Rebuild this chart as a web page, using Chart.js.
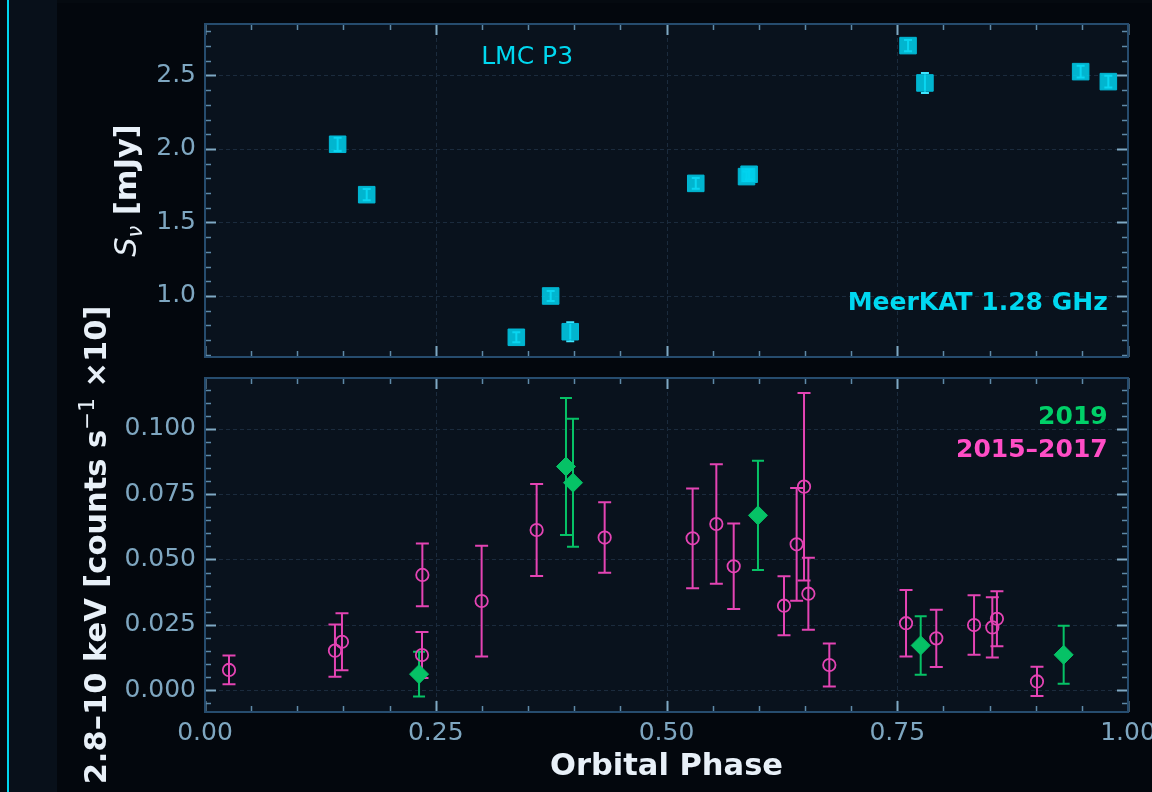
<!DOCTYPE html>
<html>
<head>
<meta charset="utf-8">
<script src="https://cdn.jsdelivr.net/npm/chart.js@4.4.1/dist/chart.umd.min.js"></script>
<style>
  body { margin: 0; background: #050a10; }
  #wrap { position: relative; width: 1152px; height: 792px; overflow: hidden; background: #050a10; }
  #edge { position: absolute; left: 7px; top: 0; width: 2px; height: 792px; background: #00d8f0; }
  #card { position: absolute; left: 9px; top: 0; width: 48px; height: 792px; background: #08101a; }
  #fig { position: absolute; left: 57px; top: 3px; right: 0; bottom: 0; background: #03070d; }
  canvas { position: absolute; left: 0; top: 0; }
</style>
</head>
<body>
<div id="wrap">
  <div id="edge"></div>
  <div id="card"></div>
  <div id="fig"></div>
  <canvas id="botChart" width="1152" height="792"></canvas>
  <canvas id="topChart" width="1152" height="792"></canvas>
</div>
<script>
// ---- data ----
// MeerKAT 1.28 GHz radio
const radioPhase = [0.1437, 0.1752, 0.3373, 0.3745, 0.3957, 0.5317, 0.5867, 0.5895, 0.7617, 0.7800, 0.9487, 0.9787];
const radioFlux  = [2.032, 1.689, 0.719, 1.000, 0.757, 1.766, 1.812, 1.828, 2.703, 2.449, 2.526, 2.458];
const radioErr   = [0.045, 0.038, 0.034, 0.034, 0.065, 0.036, 0.035, 0.035, 0.038, 0.068, 0.040, 0.040];

// X-ray 2015-2017
const xOldPhase = [0.026, 0.1408, 0.1484, 0.2355, 0.2351, 0.2997, 0.3593, 0.4330, 0.5283, 0.5540, 0.5728,
                   0.6273, 0.6410, 0.6490, 0.6537, 0.6764, 0.7595, 0.7923, 0.8332, 0.8530, 0.8580, 0.9014];
const xOldRate  = [0.0077, 0.0151, 0.0185, 0.0441, 0.0134, 0.0341, 0.0613, 0.0584, 0.0581, 0.0636, 0.0474,
                   0.0323, 0.0558, 0.0779, 0.0369, 0.0096, 0.0256, 0.0198, 0.0249, 0.0240, 0.0273, 0.0033];
const xOldErr   = [0.0055, 0.0100, 0.0109, 0.0120, 0.0088, 0.0212, 0.0176, 0.0135, 0.0191, 0.0229, 0.0164,
                   0.0113, 0.0216, 0.0359, 0.0138, 0.0082, 0.0127, 0.0110, 0.0114, 0.0115, 0.0105, 0.0056];

// X-ray 2019
const xNewPhase = [0.2319, 0.3911, 0.3987, 0.5991, 0.7754, 0.9303];
const xNewRate  = [0.0061, 0.0856, 0.0794, 0.0669, 0.0171, 0.0135];
const xNewErr   = [0.0086, 0.0262, 0.0245, 0.0209, 0.0112, 0.0111];

// tick labels
const xTicks = [0, 0.25, 0.5, 0.75, 1.0];
const yTicksTop = [1.0, 1.5, 2.0, 2.5];
const yTicksBot = [0, 0.025, 0.05, 0.075, 0.1];

// ---- look ----
const FONT = "'DejaVu Sans'";
const PLOT_BG = '#09121d';
const GRID = '#1b2b3d';
const FRAME = '#264c6e';
const TICK_MAJ = '#7fa9c4';
const TICK_MIN = '#5f8aa8';
const TICK_TXT = '#7ea6c0';
const TITLE = '#e8f0f8';
const CYAN = '#00d8f0';
const PINK = '#e444b4';
const GREEN = '#06c266';

Chart.defaults.font.family = 'DejaVu Sans';

function rotatedText(ctx, baseX, cy, segs) {
  ctx.save();
  ctx.translate(baseX, cy);
  ctx.rotate(-Math.PI / 2);
  let total = 0;
  segs.forEach(s => { ctx.font = s.font; s.w = ctx.measureText(s.t).width; total += s.w; });
  let pos = -total / 2;
  ctx.textAlign = 'left';
  ctx.textBaseline = 'alphabetic';
  segs.forEach(s => {
    ctx.font = s.font;
    ctx.fillStyle = TITLE;
    ctx.fillText(s.t, pos, s.dy || 0);
    pos += s.w;
  });
  ctx.restore();
}

// background, grid, error bars, frame, inward ticks, labels
function decor(cfg) {
  return {
    id: 'decor',
    beforeDraw(chart) {
      const { ctx, chartArea: a } = chart;
      ctx.save();
      ctx.fillStyle = PLOT_BG;
      ctx.fillRect(a.left, a.top, a.width, a.height);
      ctx.restore();
    },
    beforeDatasetsDraw(chart) {
      const { ctx, chartArea: a, scales: { x, y } } = chart;
      ctx.save();
      ctx.strokeStyle = GRID;
      ctx.lineWidth = 1;
      ctx.setLineDash([4, 3]);
      xTicks.forEach(v => {
        const px = Math.round(x.getPixelForValue(v)) + 0.5;
        if (px < a.left + 2 || px > a.right - 2) return;
        ctx.beginPath(); ctx.moveTo(px, a.top); ctx.lineTo(px, a.bottom); ctx.stroke();
      });
      cfg.yMajor.forEach(v => {
        const py = Math.round(y.getPixelForValue(v)) + 0.5;
        ctx.beginPath(); ctx.moveTo(a.left, py); ctx.lineTo(a.right, py); ctx.stroke();
      });
      ctx.setLineDash([]);
      // error bars
      chart.data.datasets.forEach(ds => {
        if (!ds.errors) return;
        ctx.strokeStyle = ds.errColor;
        ctx.lineWidth = 2;
        ds.data.forEach((p, j) => {
          const px = x.getPixelForValue(p.x);
          const y1 = y.getPixelForValue(p.y + ds.errors[j]);
          const y0 = y.getPixelForValue(p.y - ds.errors[j]);
          const c = ds.cap;
          ctx.beginPath();
          ctx.moveTo(px, y0); ctx.lineTo(px, y1);
          ctx.moveTo(px - c, y0); ctx.lineTo(px + c, y0);
          ctx.moveTo(px - c, y1); ctx.lineTo(px + c, y1);
          ctx.stroke();
        });
      });
      ctx.restore();
    },
    afterDraw(chart) {
      const { ctx, chartArea: a, scales: { x, y } } = chart;
      ctx.save();
      // inward ticks on all four sides
      const tick = (px, py, dx, dy, len, col, w) => {
        ctx.strokeStyle = col; ctx.lineWidth = w;
        ctx.beginPath(); ctx.moveTo(px, py); ctx.lineTo(px + dx * len, py + dy * len); ctx.stroke();
      };
      for (let v = 0; v <= 1.0001; v += 0.05) {
        const major = xTicks.some(t => Math.abs(t - v) < 1e-6);
        const px = Math.round(x.getPixelForValue(v)) + 0.5;
        const len = major ? 11 : 6, col = major ? TICK_MAJ : TICK_MIN, w = major ? 2 : 1.5;
        tick(px, a.bottom, 0, -1, len, col, w);
        tick(px, a.top, 0, 1, len, col, w);
      }
      for (let v = cfg.yMinStart; v <= y.max; v += cfg.yMinor) {
        if (v < y.min) continue;
        const major = cfg.yMajor.some(t => Math.abs(t - v) < 1e-6);
        const py = Math.round(y.getPixelForValue(v)) + 0.5;
        const len = major ? 11 : 6, col = major ? TICK_MAJ : TICK_MIN, w = major ? 2 : 1.5;
        tick(a.left, py, 1, 0, len, col, w);
        tick(a.right, py, -1, 0, len, col, w);
      }
      // frame
      ctx.strokeStyle = FRAME;
      ctx.lineWidth = 2;
      ctx.strokeRect(a.left, a.top, a.width, a.height);
      // annotations
      cfg.notes.forEach(n => {
        ctx.font = n.font;
        ctx.fillStyle = n.color;
        ctx.textAlign = n.align;
        ctx.textBaseline = 'middle';
        ctx.fillText(n.text, a.left + n.fx * a.width, a.top + n.fy * a.height);
      });
      // axis titles
      rotatedText(ctx, cfg.yTitleX, (a.top + a.bottom) / 2, cfg.yTitle);
      if (cfg.xTitle) {
        ctx.font = `bold 30.5px ${FONT}`;
        ctx.fillStyle = TITLE;
        ctx.textAlign = 'center';
        ctx.textBaseline = 'middle';
        ctx.fillText(cfg.xTitle, (a.left + a.right) / 2, 767);
      }
      ctx.restore();
    }
  };
}

function fixedBox(w, h) {
  return s => {
    if (w !== null) s.width = w;
    if (h !== null) s.height = h;
    s.paddingLeft = s.paddingRight = s.paddingTop = s.paddingBottom = 0;
  };
}

const tickFont = { family: 'DejaVu Sans', size: 25 };

// ---- top panel: radio ----
new Chart(document.getElementById('topChart'), {
  type: 'scatter',
  data: {
    datasets: [{
      data: radioPhase.map((p, i) => ({ x: p, y: radioFlux[i] })),
      errors: radioErr, errColor: '#3fe6ff', cap: 4,
      pointStyle: 'rect',
      pointRadius: 11.7,
      backgroundColor: 'rgba(0,210,238,0.85)',
      borderColor: '#00b8d6',
      borderWidth: 1
    }]
  },
  options: {
    responsive: false,
    animation: false,
    layout: { padding: { top: 24, right: 24, bottom: 435, left: 0 } },
    plugins: { legend: { display: false }, tooltip: { enabled: false } },
    scales: {
      x: {
        type: 'linear', min: 0, max: 1,
        afterBuildTicks: s => { s.ticks = xTicks.map(v => ({ value: v })); },
        ticks: { display: false },
        grid: { display: false, drawTicks: false },
        border: { display: false },
        afterFit: fixedBox(null, 0)
      },
      y: {
        min: 0.585, max: 2.85,
        afterBuildTicks: s => { s.ticks = yTicksTop.map(v => ({ value: v })); },
        ticks: { color: TICK_TXT, font: tickFont, padding: 9, autoSkip: false,
                 callback: v => Number(v).toFixed(1) },
        grid: { display: false, drawTicks: false },
        border: { display: false },
        afterFit: fixedBox(205, null)
      }
    }
  },
  plugins: [decor({
    yMajor: yTicksTop, yMinor: 0.1, yMinStart: 0.6,
    yTitleX: 136,
    yTitle: [
      { t: 'S', font: `italic 30.5px ${FONT}` },
      { t: 'ν', font: `italic 21px ${FONT}`, dy: 6 },
      { t: ' [mJy]', font: `bold 30.5px ${FONT}` }
    ],
    notes: [
      { text: 'LMC P3', font: `25px ${FONT}`, color: CYAN, align: 'center', fx: 0.349, fy: 0.100 },
      { text: 'MeerKAT 1.28 GHz', font: `bold 25px ${FONT}`, color: CYAN, align: 'right', fx: 0.978, fy: 0.840 }
    ]
  })]
});

// ---- bottom panel: X-ray ----
new Chart(document.getElementById('botChart'), {
  type: 'scatter',
  data: {
    datasets: [{
      data: xNewPhase.map((p, i) => ({ x: p, y: xNewRate[i] })),
      errors: xNewErr, errColor: GREEN, cap: 6,
      pointStyle: 'rectRot',
      pointRadius: 9.5,
      backgroundColor: GREEN,
      borderColor: GREEN,
      borderWidth: 1
    }, {
      data: xOldPhase.map((p, i) => ({ x: p, y: xOldRate[i] })),
      errors: xOldErr, errColor: PINK, cap: 6.5,
      pointStyle: 'circle',
      pointRadius: 6.2,
      backgroundColor: 'rgba(0,0,0,0)',
      borderColor: PINK,
      borderWidth: 1.8
    }]
  },
  options: {
    responsive: false,
    animation: false,
    layout: { padding: { top: 378, right: 24, bottom: 0, left: 0 } },
    plugins: { legend: { display: false }, tooltip: { enabled: false } },
    scales: {
      x: {
        type: 'linear', min: 0, max: 1,
        afterBuildTicks: s => { s.ticks = xTicks.map(v => ({ value: v })); },
        ticks: { color: TICK_TXT, font: tickFont, padding: 6, autoSkip: false, maxRotation: 0,
                 callback: v => Number(v).toFixed(2) },
        grid: { display: false, drawTicks: false },
        border: { display: false },
        afterFit: fixedBox(null, 80)
      },
      y: {
        min: -0.0084, max: 0.1195,
        afterBuildTicks: s => { s.ticks = yTicksBot.map(v => ({ value: v })); },
        ticks: { color: TICK_TXT, font: tickFont, padding: 9, autoSkip: false,
                 callback: v => Number(v).toFixed(3) },
        grid: { display: false, drawTicks: false },
        border: { display: false },
        afterFit: fixedBox(205, null)
      }
    }
  },
  plugins: [decor({
    yMajor: yTicksBot, yMinor: 0.005, yMinStart: -0.005,
    yTitleX: 106,
    yTitle: [
      { t: '2.8–10 keV [counts s', font: `bold 30.5px ${FONT}` },
      { t: '−1', font: `21.4px ${FONT}`, dy: -12 },
      { t: ' ×10]', font: `bold 30.5px ${FONT}` }
    ],
    xTitle: 'Orbital Phase',
    notes: [
      { text: '2019', font: `bold 25px ${FONT}`, color: '#00d068', align: 'right', fx: 0.978, fy: 0.117 },
      { text: '2015–2017', font: `bold 25px ${FONT}`, color: '#ff4dc6', align: 'right', fx: 0.978, fy: 0.216 }
    ]
  })]
});
</script>
</body>
</html>
